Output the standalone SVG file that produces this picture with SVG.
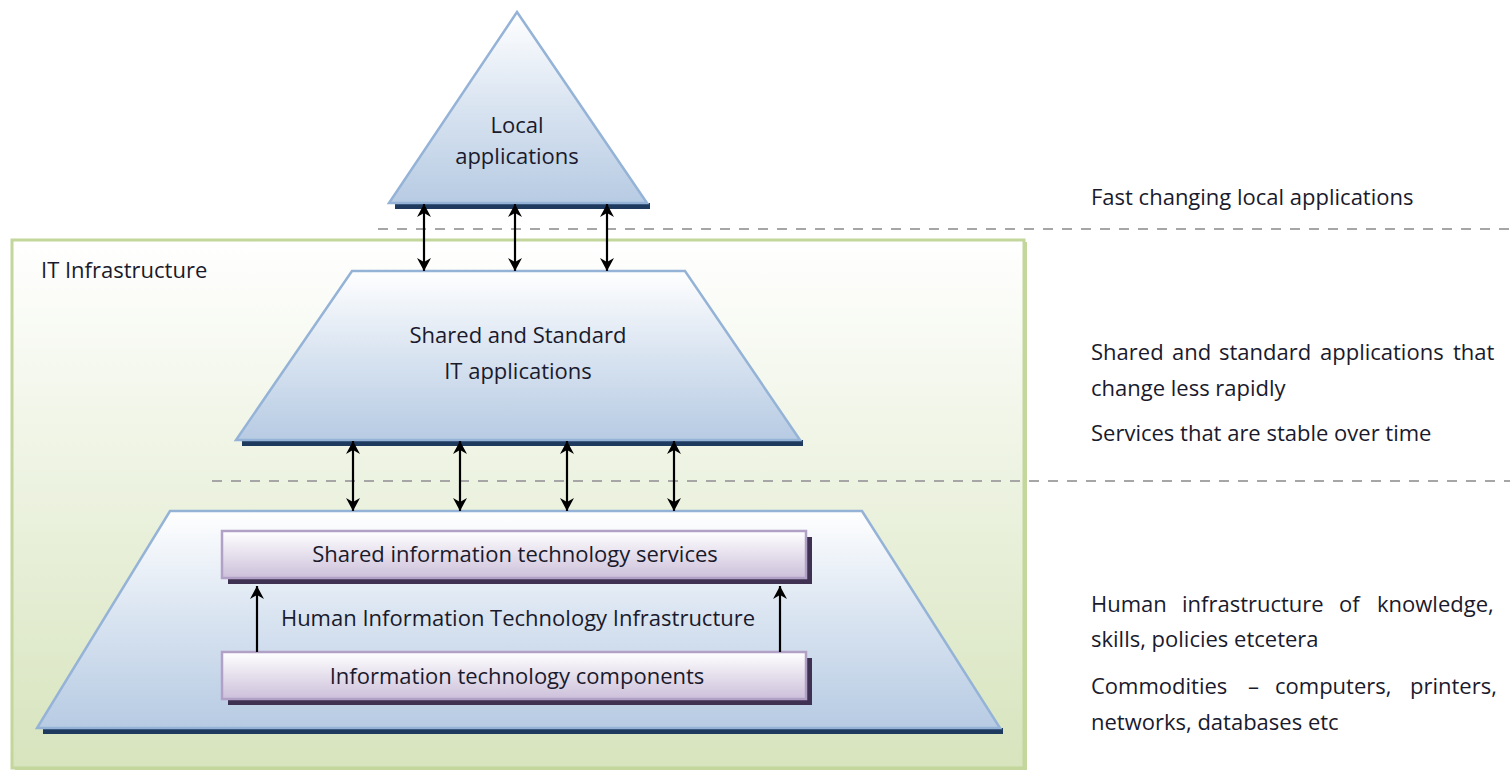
<svg xmlns="http://www.w3.org/2000/svg" width="1510" height="772" viewBox="0 0 1510 772">
<defs>
  <linearGradient id="gBlue" x1="0" y1="0" x2="0" y2="1">
    <stop offset="0" stop-color="#ffffff"/>
    <stop offset="0.45" stop-color="#dce6f2"/>
    <stop offset="1" stop-color="#b7cbe3"/>
  </linearGradient>
  <linearGradient id="gPurple" x1="0" y1="0" x2="0" y2="1">
    <stop offset="0" stop-color="#ffffff"/>
    <stop offset="1" stop-color="#ccc0da"/>
  </linearGradient>
  <linearGradient id="gGreen" x1="0" y1="0" x2="0" y2="1">
    <stop offset="0" stop-color="#ffffff"/>
    <stop offset="1" stop-color="#d7e4bd"/>
  </linearGradient>
  <marker id="ah" viewBox="0 0 14 14" refX="13" refY="7" markerWidth="14" markerHeight="14" markerUnits="userSpaceOnUse" orient="auto-start-reverse">
    <path d="M0,0 L13,7 L0,14 L4,7 Z" fill="#000"/>
  </marker>
</defs>
<style>
  text { font-family: "Open Sans", "Noto Sans", "Liberation Sans", sans-serif; font-size: 22px; fill: #1a1a2c; }
  .c { text-anchor: middle; }
  .blue { fill: url(#gBlue); stroke: #95b3d7; stroke-width: 2.5; }
  .bshadow { fill: #1f3a5f; }
  .purple { fill: url(#gPurple); stroke: #b2a1c7; stroke-width: 2.5; }
  .pshadow { fill: #3f3151; }
  .dash { stroke: #a6a6a6; stroke-width: 2; stroke-dasharray: 10 9; fill: none; }
  .arr { stroke: #000; stroke-width: 2.2; fill: none; }
</style>

<rect width="1510" height="772" fill="#ffffff"/>

<g id="it-infrastructure">
  <rect x="15" y="242" width="1012" height="528" fill="#9bbb59" opacity="0.6"/>
  <rect x="12" y="240" width="1012" height="528" fill="url(#gGreen)" stroke="#c3d69b" stroke-width="3"/>
  <text x="41" y="278">IT Infrastructure</text>
</g>

<g id="dividers">
  <line class="dash" x1="378" y1="229" x2="1510" y2="229"/>
  <line class="dash" x1="212" y1="481" x2="1510" y2="481"/>
</g>

<g id="local-applications">
  <rect class="bshadow" x="395" y="203" width="255" height="6"/>
  <polygon class="blue" points="517,12 647,203 389,203"/>
  <text class="c" x="517" y="133">Local</text>
  <text class="c" x="517" y="164">applications</text>
</g>

<g id="shared-standard-apps">
  <rect class="bshadow" x="242" y="440" width="561" height="6"/>
  <polygon class="blue" points="352,271 685,271 800,440 236,440"/>
  <text class="c" x="518" y="343">Shared and Standard</text>
  <text class="c" x="518" y="379">IT applications</text>
</g>

<g id="shared-it-services-layer">
  <rect class="bshadow" x="43" y="728" width="960" height="6"/>
  <polygon class="blue" points="170,511 862,511 1000,728 37,728"/>
  <text class="c" x="518" y="626">Human Information Technology Infrastructure</text>
</g>

<g id="shared-it-services">
  <rect class="pshadow" x="228" y="537" width="584" height="47"/>
  <rect class="purple" x="222" y="531" width="584" height="47"/>
  <text class="c" x="515" y="562">Shared information technology services</text>
</g>

<g id="it-components">
  <rect class="pshadow" x="228" y="658" width="584" height="47"/>
  <rect class="purple" x="222" y="652" width="584" height="47"/>
  <text class="c" x="517" y="684">Information technology components</text>
</g>

<g id="connectors">
  <line class="arr" x1="424" y1="204" x2="424" y2="271" marker-start="url(#ah)" marker-end="url(#ah)"/>
  <line class="arr" x1="515" y1="204" x2="515" y2="271" marker-start="url(#ah)" marker-end="url(#ah)"/>
  <line class="arr" x1="607" y1="204" x2="607" y2="271" marker-start="url(#ah)" marker-end="url(#ah)"/>
  <line class="arr" x1="353" y1="441" x2="353" y2="511" marker-start="url(#ah)" marker-end="url(#ah)"/>
  <line class="arr" x1="460" y1="441" x2="460" y2="511" marker-start="url(#ah)" marker-end="url(#ah)"/>
  <line class="arr" x1="567" y1="441" x2="567" y2="511" marker-start="url(#ah)" marker-end="url(#ah)"/>
  <line class="arr" x1="674" y1="441" x2="674" y2="511" marker-start="url(#ah)" marker-end="url(#ah)"/>
  <line class="arr" x1="257" y1="652" x2="257" y2="586" marker-end="url(#ah)"/>
  <line class="arr" x1="780" y1="652" x2="780" y2="586" marker-end="url(#ah)"/>
</g>

<g id="descriptions">
  <text x="1091" y="205">Fast changing local applications</text>
  <text y="360"><tspan x="1091">Shared</tspan><tspan x="1172">and</tspan><tspan x="1219">standard</tspan><tspan x="1320">applications</tspan><tspan x="1453">that</tspan></text>
  <text x="1091" y="396">change less rapidly</text>
  <text x="1091" y="441">Services that are stable over time</text>
  <text y="612"><tspan x="1091">Human</tspan><tspan x="1182">infrastructure</tspan><tspan x="1339">of</tspan><tspan x="1377">knowledge,</tspan></text>
  <text x="1091" y="647">skills, policies etcetera</text>
  <text y="694"><tspan x="1091">Commodities</tspan><tspan x="1248">–</tspan><tspan x="1275">computers,</tspan><tspan x="1410">printers,</tspan></text>
  <text x="1091" y="730">networks, databases etc</text>
</g>
</svg>
